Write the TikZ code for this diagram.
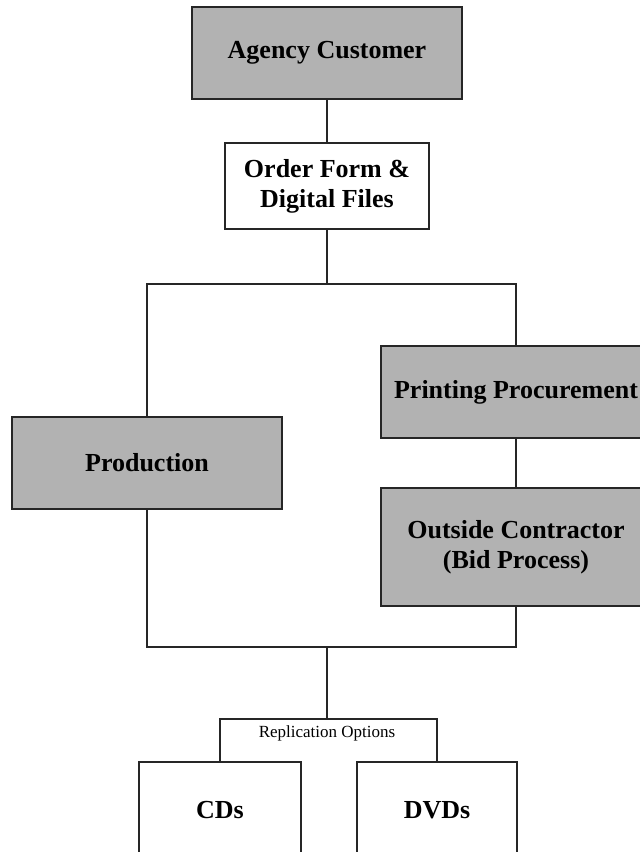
\documentclass[tikz,border=0pt]{standalone}
\usepackage{fontspec}
\setmainfont{Liberation Serif}
\begin{document}
\begin{tikzpicture}[x=1pt,y=-1pt,
  box/.style={draw=black!85, line width=1.3pt, inner sep=0pt, align=center,
    font=\fontsize{26}{30}\selectfont\bfseries},
  greybox/.style={box, fill=black!30},
  link/.style={draw=black!85, line width=1.3pt}]
\useasboundingbox (0,0) rectangle (640,852);
\clip (0,0) rectangle (640,852);

% boxes
\node[greybox, minimum width=270, minimum height=92] (agency) at (327,53) {Agency Customer};
\node[box, minimum width=204, minimum height=86] (order) at (327,186) {Order Form \&\\Digital Files};
\node[greybox, minimum width=270, minimum height=92] (prod) at (147,463) {Production};
\node[greybox, minimum width=270, minimum height=92] (print) at (516,392) {Printing Procurement};
\node[greybox, minimum width=270, minimum height=118] (contr) at (516,547) {Outside Contractor\\(Bid Process)};
\node[box, minimum width=162, minimum height=96] (cds) at (220,810) {CDs};
\node[box, minimum width=160, minimum height=96] (dvds) at (437,810) {DVDs};
\node[font=\fontsize{17}{19}\selectfont, inner sep=0pt, anchor=base] (options) at (327,737) {Replication Options};

\coordinate (topbar) at (327,284);
\coordinate (botbar) at (327,647);
\coordinate (split) at (327,719);

% connectors
\draw[link] (agency) -- (order);
\draw[link] (order) -- (topbar);
\draw[link] (prod.north) |- (topbar) -| (print.north);
\draw[link] (print) -- (contr);
\draw[link] (prod.south) |- (botbar) -| (contr.south);
\draw[link] (botbar) -- (split);
\draw[link] (cds.north) |- (split) -| (dvds.north);

\end{tikzpicture}
\end{document}
